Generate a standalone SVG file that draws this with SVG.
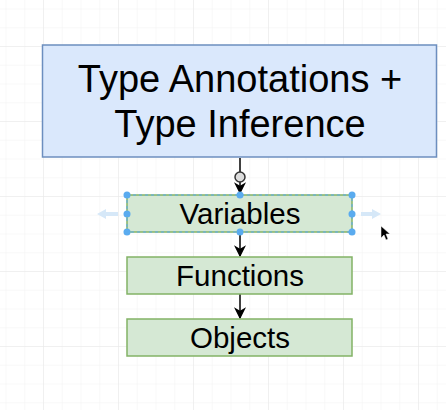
<svg xmlns="http://www.w3.org/2000/svg" width="446" height="410" viewBox="0 0 446 410">
<defs>
<pattern id="minor" x="5.5" y="8.5" width="18.75" height="18.75" patternUnits="userSpaceOnUse">
<path d="M0 0H18.75M0 0V18.75" fill="none" stroke="#f2f2f2" stroke-width="1"/>
</pattern>
<pattern id="major" x="43" y="46" width="75" height="75" patternUnits="userSpaceOnUse">
<path d="M0 0H75M0 0V75" fill="none" stroke="#e8e8e8" stroke-width="1"/>
</pattern>
<marker id="arr" viewBox="0 0 10 10" refX="9" refY="5" markerWidth="14" markerHeight="12" markerUnits="userSpaceOnUse" orient="auto">
<path d="M0 0L10 5L0 10L3 5Z" fill="#000"/>
</marker>
</defs>
<style>
.blue{fill:#dae8fc;stroke:#6c8ebf;stroke-width:1.5}
.green{fill:#d5e8d4;stroke:#82b366;stroke-width:1.5}
.t{font-family:"Liberation Sans",Arial,sans-serif;fill:#000;text-anchor:middle}
.big{font-size:38px}
.mid{font-size:29.5px}
.edge{stroke:#000;stroke-width:1.5;fill:none}
.h{fill:#5aabef}
</style>
<rect width="446" height="410" fill="#fff"/>
<rect width="446" height="410" fill="url(#minor)"/>
<rect width="446" height="410" fill="url(#major)"/>
<g id="connectors">
<path class="edge" d="M240 158V193" marker-end="url(#arr)"/>
<circle cx="240" cy="177" r="5" fill="#ddd" stroke="#333" stroke-width="1.5"/>
<path class="edge" d="M240 232V256" marker-end="url(#arr)"/>
<path class="edge" d="M240 294V318" marker-end="url(#arr)"/>
</g>
<g id="node-main">
<rect class="blue" x="42.5" y="45" width="394" height="112"/>
<text class="t big" x="240" y="92">Type Annotations +</text>
<text class="t big" x="240" y="137">Type Inference</text>
</g>
<g id="node-variables">
<rect class="green" x="127" y="195" width="225" height="37"/>
<rect x="127" y="195" width="225" height="37" fill="none" stroke="#5aabef" stroke-width="1" stroke-dasharray="3 3"/>
<text class="t mid" x="240" y="224">Variables</text>
<g class="h">
<circle cx="127" cy="195" r="3.5"/><circle cx="240" cy="195" r="3.5"/><circle cx="352" cy="195" r="3.5"/>
<circle cx="127" cy="214" r="3.5"/><circle cx="352" cy="214" r="3.5"/>
<circle cx="127" cy="232" r="3.5"/><circle cx="240" cy="232" r="3.5"/><circle cx="352" cy="232" r="3.5"/>
</g>
<path d="M97 214L106 209V212H118V216H106V219Z" fill="#d6e8f8"/>
<path d="M381 214L372 209V212H361V216H372V219Z" fill="#d6e8f8"/>
</g>
<g id="node-functions">
<rect class="green" x="127" y="257" width="225" height="37"/>
<text class="t mid" x="240" y="286">Functions</text>
</g>
<g id="node-objects">
<rect class="green" x="127" y="319" width="225" height="37"/>
<text class="t mid" x="240" y="348">Objects</text>
</g>
<path d="M381 226V238L384 235L386 240L388 239L386 234H390Z" fill="#000" stroke="#fff" stroke-width="0.5"/>
</svg>
